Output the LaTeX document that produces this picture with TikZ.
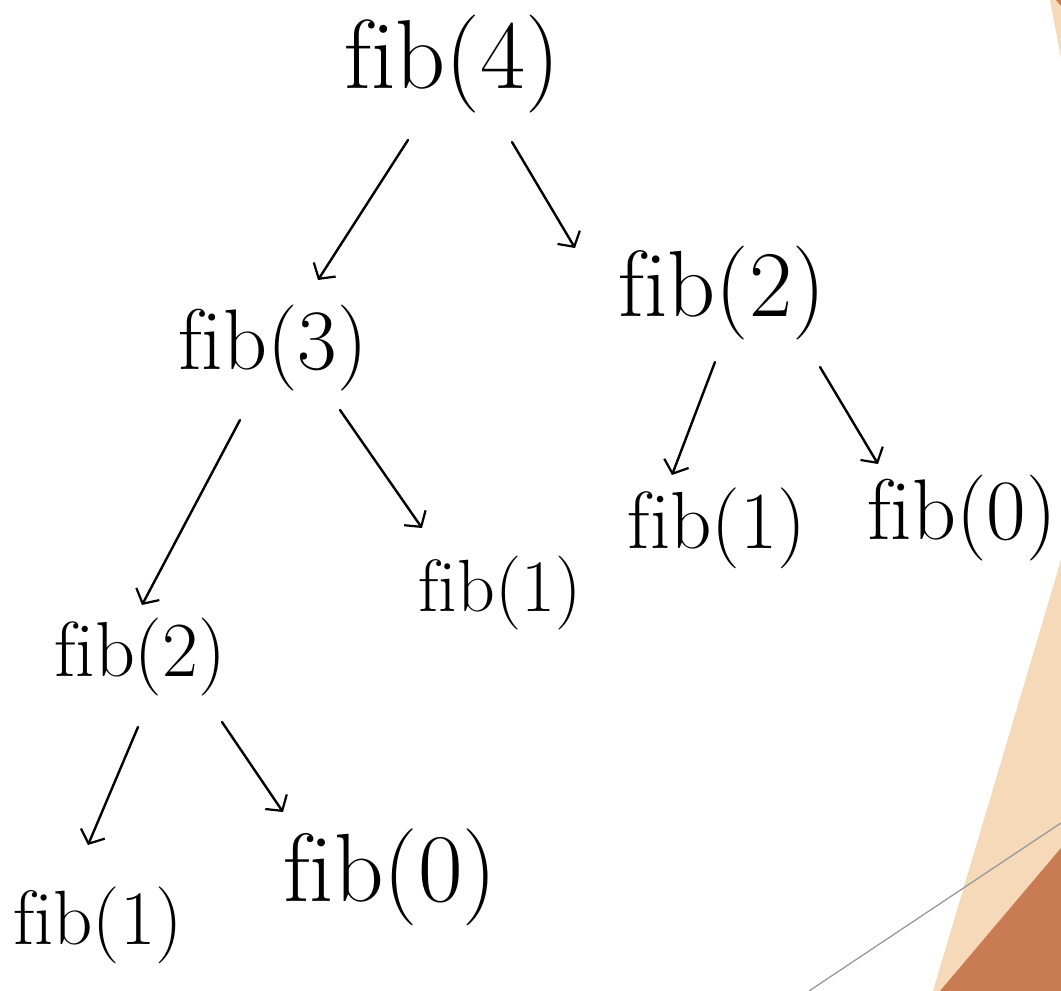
\documentclass[tikz,border=0pt]{standalone}
\usepackage{fontspec}
\setmainfont{Latin Modern Roman}[Ligatures=NoCommon]
\usetikzlibrary{arrows.meta}
\definecolor{peach}{HTML}{F5D9B8}
\definecolor{rust}{HTML}{C97B53}
\definecolor{greyline}{HTML}{9A9A9A}
\tikzset{
  lbl/.style={inner sep=0pt, font=\fontsize{#1}{#1}\selectfont},
  arr/.style={line width=2.4pt, line cap=round, line join=round,
    -{Straight Barb[length=11pt,width=26pt,line width=2.2pt]}},
}
\begin{document}
\begin{tikzpicture}[x=1pt,y=-1pt]
\useasboundingbox (0,0) rectangle (1061,991);
% background decoration
\fill[peach] (1050,0) -- (1061,0) -- (1061,58) -- cycle;
\fill[rust] (1056,0) -- (1061,0) -- (1061,6) -- cycle;
\fill[peach] (1061,560) -- (1061,991) -- (933,991) -- cycle;
\fill[rust] (1061,848) -- (1061,991) -- (940,991) -- cycle;
\draw[greyline, line width=1.3pt] (809,991) -- (1061,823);
% nodes
\node[lbl=98] (f4)  at (452,64)  {fib(4)};
\node[lbl=86] (f3)  at (273,348) {fib(3)};
\node[lbl=94] (f2r) at (722,293) {fib(2)};
\node[lbl=78] (f2l) at (140,657) {fib(2)};
\node[lbl=74] (f1m) at (500,593) {fib(1)};
\node[lbl=81] (f1r) at (717,528) {fib(1)};
\node[lbl=86] (f0r) at (962,518) {fib(0)};
\node[lbl=77] (f1b) at (98,925)  {fib(1)};
\node[lbl=97] (f0b) at (390,877) {fib(0)};
% connector end points
\coordinate (a1s) at (408,140); \coordinate (a1e) at (318,280);
\coordinate (a2s) at (512,142); \coordinate (a2e) at (575,248);
\coordinate (a3s) at (240,420); \coordinate (a3e) at (142,605);
\coordinate (a4s) at (340,410); \coordinate (a4e) at (422,528);
\coordinate (a5s) at (715,362); \coordinate (a5e) at (672,475);
\coordinate (a6s) at (820,367); \coordinate (a6e) at (878,464);
\coordinate (a7s) at (138,727); \coordinate (a7e) at (88,845);
\coordinate (a8s) at (222,722); \coordinate (a8e) at (283,812);
% connectors
\draw[arr] (a1s) -- (a1e);
\draw[arr] (a2s) -- (a2e);
\draw[arr] (a3s) -- (a3e);
\draw[arr] (a4s) -- (a4e);
\draw[arr] (a5s) -- (a5e);
\draw[arr] (a6s) -- (a6e);
\draw[arr] (a7s) -- (a7e);
\draw[arr] (a8s) -- (a8e);
\end{tikzpicture}
\end{document}
